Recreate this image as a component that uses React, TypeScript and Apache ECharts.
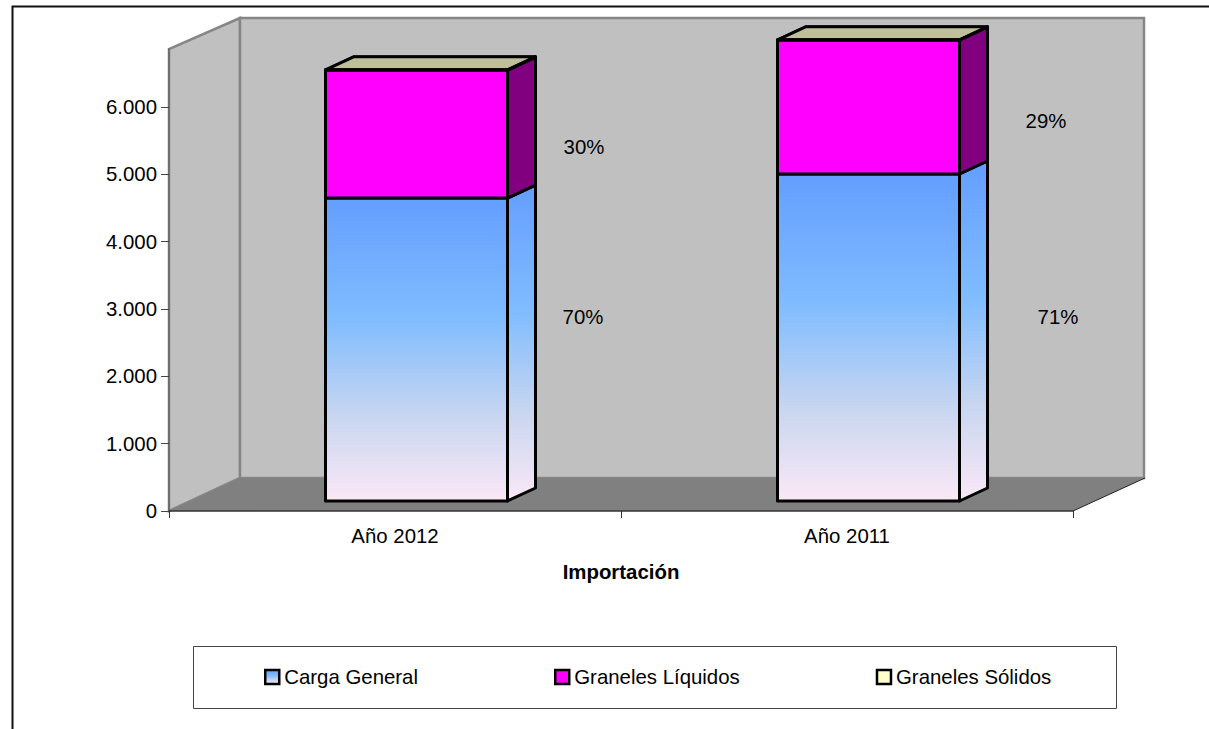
import React, { useEffect, useRef } from "react";
import * as echarts from "echarts";

const categories = ["Año 2012", "Año 2011"];
const cargaGeneral = [4500, 4857];
const granelesLiquidos = [1901, 1990];
const granelesSolidos = [3, 3];
const tickValues = [0, 1000, 2000, 3000, 4000, 5000, 6000];
const tickLabels = ["0", "1.000", "2.000", "3.000", "4.000", "5.000", "6.000"];
const percentTexts = ["70%", "30%", "71%", "29%"];
const percentCats = [0, 0, 1, 1];
const percentValues = [2881, 5406, 2881, 5792];
const axisMax = 6862;

const FONT = "Liberation Sans";
const blueStops = [
  { offset: 0, color: "#649EFF" },
  { offset: 0.4, color: "#80BCFF" },
  { offset: 0.72, color: "#C8D6F0" },
  { offset: 1, color: "#FBE8F6" },
];
const blue = () => new echarts.graphic.LinearGradient(0, 0, 0, 1, blueStops);
const WALL_DX = 71, WALL_DY = 33;
const BAR_DX = 21.5, BAR_DY = 10, BAR_W = 182, SIDE_DX = 28, SIDE_DY = 13;
const LABEL_DX = [188, 189, 211, 199];

function poly(points: number[][], style: any) {
  return { type: "polygon", shape: { points }, style };
}

function wallsItem(params: any) {
  const { x, y, width, height } = params.coordSys;
  const b = y + height, r = x + width;
  const line = { stroke: "#868686", lineWidth: 2.5, lineJoin: "miter" };
  return {
    type: "group",
    children: [
      poly([[x, b], [x + WALL_DX, b - WALL_DY], [x + WALL_DX, y - WALL_DY + 2], [x, y]], { fill: "#C0C0C0", ...line }),
      poly([[x + WALL_DX, b - WALL_DY], [r + WALL_DX, b - WALL_DY], [r + WALL_DX, y - WALL_DY + 2], [x + WALL_DX, y - WALL_DY + 2]], { fill: "#C0C0C0", ...line }),
      poly([[x, b], [x + WALL_DX, b - WALL_DY], [r + WALL_DX + 1, b - WALL_DY], [r, b]], { fill: "#808080" }),
      { type: "line", shape: { x1: r, y1: b, x2: r + WALL_DX + 1, y2: b - WALL_DY }, style: { stroke: "#222", lineWidth: 1 } },
    ],
  };
}

function barItem(front: () => any, side: () => any, top: string) {
  return (_p: any, api: any) => {
    const lo = api.coord([api.value(0), api.value(1)]);
    const hi = api.coord([api.value(0), api.value(2)]);
    const l = lo[0] + BAR_DX - BAR_W / 2, r = l + BAR_W;
    const y0 = lo[1] - BAR_DY, y1 = hi[1] - BAR_DY;
    const edge = { stroke: "#000", lineWidth: 3, lineJoin: "round" };
    return {
      type: "group",
      children: [
        poly([[l, y1], [r, y1], [r + SIDE_DX, y1 - SIDE_DY], [l + SIDE_DX, y1 - SIDE_DY]], { fill: top, ...edge }),
        poly([[r, y0], [r + SIDE_DX, y0 - SIDE_DY], [r + SIDE_DX, y1 - SIDE_DY], [r, y1]], { fill: side(), ...edge }),
        poly([[l, y0], [r, y0], [r, y1], [l, y1]], { fill: front(), ...edge }),
      ],
    };
  };
}

function rows(vals: number[], base: number[]) {
  return vals.map((v, i) => [i, base[i], base[i] + v]);
}

export default function App() {
  const ref = useRef<HTMLDivElement>(null);
  useEffect(() => {
    const chart = echarts.init(ref.current!, null, { renderer: "svg" });
    const base2 = cargaGeneral.map((v, i) => v + granelesLiquidos[i]);
    const zeros = cargaGeneral.map(() => 0);
    const common = { type: "custom", coordinateSystem: "cartesian2d", clip: false, encode: { x: 0, y: [1, 2] }, silent: true };
    const txt = { fontFamily: FONT, fontSize: 20.4, color: "#000" };
    chart.setOption({
      animation: false,
      backgroundColor: "#fff",
      grid: { left: 169, top: 49, width: 904, height: 462, show: false },
      xAxis: {
        type: "category",
        data: categories,
        z: 5,
        name: "Importación",
        nameLocation: "middle",
        nameGap: 51,
        nameTextStyle: { ...txt, fontWeight: "bold" },
        axisLine: { lineStyle: { color: "#333", width: 1.5 } },
        axisTick: { show: true, length: 7, lineStyle: { color: "#333" }, alignWithLabel: false },
        axisLabel: { ...txt, margin: 15 },
      },
      yAxis: {
        type: "value",
        min: 0,
        max: axisMax,
        z: 5,
        splitLine: { show: false },
        axisLine: { show: true, lineStyle: { color: "#666", width: 1.5 } },
        axisTick: { show: true, length: 8, lineStyle: { color: "#444" }, customValues: tickValues },
        axisLabel: {
          ...txt,
          margin: 12,
          customValues: tickValues,
          formatter: (v: number) => tickLabels[tickValues.indexOf(v)] ?? "",
        },
      },
      legend: {
        left: 264,
        top: 667,
        padding: 0,
        itemGap: 136,
        itemWidth: 14,
        itemHeight: 14,
        selectedMode: false,
        textStyle: { ...txt },
        data: [
          { name: "Carga General", icon: "rect", itemStyle: { color: blue(), borderColor: "#000", borderWidth: 2.5 } },
          { name: "Graneles Líquidos", icon: "rect", itemStyle: { color: "#FF00FF", borderColor: "#000", borderWidth: 2.5 } },
          { name: "Graneles Sólidos", icon: "rect", itemStyle: { color: "#FFFFCC", borderColor: "#000", borderWidth: 2.5 } },
        ],
      },
      graphic: [
        { type: "polyline", z: 0, shape: { points: [[12.5, 729], [12.5, 6.5], [1209, 6.5]] }, style: { stroke: "#111", lineWidth: 2, fill: "none" } },
        { type: "rect", z: 0, shape: { x: 193.5, y: 646.5, width: 923, height: 62 }, style: { fill: "#fff", stroke: "#444", lineWidth: 1 } },
      ],
      series: [
        { ...common, name: "walls", z: 1, data: [[0, 0, 0]], renderItem: wallsItem },
        { ...common, name: "Carga General", z: 2, itemStyle: { color: "#649EFF" }, data: rows(cargaGeneral, zeros), renderItem: barItem(blue, blue, "#649EFF") },
        { ...common, name: "Graneles Líquidos", z: 3, itemStyle: { color: "#FF00FF" }, data: rows(granelesLiquidos, cargaGeneral), renderItem: barItem(() => "#FF00FF", () => "#800080", "#FF00FF") },
        { ...common, name: "Graneles Sólidos", z: 4, itemStyle: { color: "#FFFFCC" }, data: rows(granelesSolidos, base2), renderItem: barItem(() => "#FFFFCC", () => "#800080", "#BFBF99") },
        {
          ...common,
          name: "labels",
          z: 6,
          encode: { x: 0, y: 1 },
          data: percentValues.map((v, i) => [percentCats[i], v]),
          renderItem: (p: any, api: any) => {
            const c = api.coord([api.value(0), api.value(1)]);
            return {
              type: "text",
              x: c[0] + LABEL_DX[p.dataIndex],
              y: c[1],
              style: { text: percentTexts[p.dataIndex], font: `20.4px "${FONT}"`, fill: "#000", textAlign: "center", textVerticalAlign: "middle" },
            };
          },
        },
      ],
    });
    return () => chart.dispose();
  }, []);
  return <div ref={ref} style={{ position: "absolute", left: 0, top: 0, width: 1209, height: 729 }} />;
}
